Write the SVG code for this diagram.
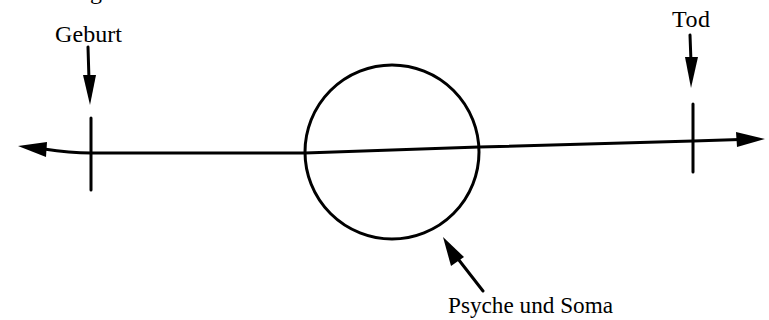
<svg xmlns="http://www.w3.org/2000/svg" width="769" height="320" viewBox="0 0 769 320">
<style>
.t{font-family:"Liberation Serif",serif;font-size:24px;fill:#000}
.s{fill:none;stroke:#000;stroke-width:3;stroke-linecap:round}
.h{fill:#000;stroke:none}
</style>
<rect width="769" height="320" fill="#fff"/>
<text class="t" x="90" y="-1">g</text>
<g id="geburt">
<text class="t" x="55" y="42" textLength="67">Geburt</text>
<line class="s" x1="91" y1="118" x2="91" y2="190"/>
</g>
<g id="tod">
<text class="t" x="672" y="27" textLength="38">Tod</text>
<line class="s" x1="693" y1="104" x2="693" y2="172"/>
</g>
<g id="psyche-soma">
<circle class="s" cx="392" cy="152" r="87" stroke-width="3.5"/>
<text class="t" x="448" y="313" textLength="165" lengthAdjust="spacingAndGlyphs">Psyche und Soma</text>
</g>
<g id="connectors">
<path class="s" d="M44,149 Q70,153 91,153 L305,153 L479,147 L693,141 L740,139.5"/>
<polygon class="h" points="18,146 47,142 46,157"/>
<polygon class="h" points="765,139 736,132 737,147"/>
<line class="s" x1="88" y1="47" x2="89" y2="80"/>
<polygon class="h" points="83,75 96,75 90,105"/>
<line class="s" x1="690" y1="35" x2="691" y2="62"/>
<polygon class="h" points="685,57 698,57 691,88"/>
<line class="s" x1="483" y1="291" x2="455" y2="255"/>
<polygon class="h" points="443,237 451,266 464,257"/>
</g>
</svg>
